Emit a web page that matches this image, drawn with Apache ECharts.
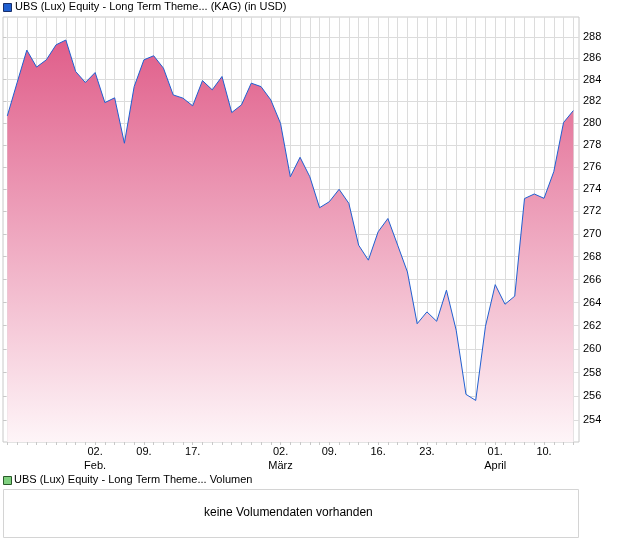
<!DOCTYPE html>
<html>
<head>
<meta charset="utf-8">
<script src="https://cdn.jsdelivr.net/npm/echarts@6/dist/echarts.min.js"></script>
<style>
html,body{margin:0;padding:0;background:#fff;}
#chart{width:620px;height:546px;}
</style>
</head>
<body>
<div id="chart"></div>
<script>
// ---- data ----
const dates = [
  '2026-01-20','2026-01-21','2026-01-22','2026-01-23','2026-01-26','2026-01-27','2026-01-28','2026-01-29','2026-01-30',
  '2026-02-02','2026-02-03','2026-02-04','2026-02-05','2026-02-06',
  '2026-02-09','2026-02-10','2026-02-11','2026-02-12','2026-02-13',
  '2026-02-17','2026-02-18','2026-02-19','2026-02-20',
  '2026-02-23','2026-02-24','2026-02-25','2026-02-26','2026-02-27',
  '2026-03-02','2026-03-03','2026-03-04','2026-03-05','2026-03-06',
  '2026-03-09','2026-03-10','2026-03-11','2026-03-12','2026-03-13',
  '2026-03-16','2026-03-17','2026-03-18','2026-03-19','2026-03-20',
  '2026-03-23','2026-03-24','2026-03-25','2026-03-26','2026-03-27',
  '2026-03-30','2026-03-31','2026-04-01','2026-04-02',
  '2026-04-07','2026-04-08','2026-04-09','2026-04-10',
  '2026-04-13','2026-04-14','2026-04-15'
];
const prices = [
  280.65, 283.71, 286.77, 285.18, 285.86, 287.27, 287.72, 284.77, 283.74,
  284.67, 281.88, 282.32, 278.15, 283.36,
  285.86, 286.24, 285.08, 282.59, 282.29,
  281.58, 283.92, 283.06, 284.30,
  280.96, 281.67, 283.68, 283.36, 282.13,
  279.96, 275.11, 276.87, 275.11, 272.33,
  272.87, 273.98, 272.72, 269.01, 267.69,
  270.19, 271.37, 269.01, 266.66, 262.17,
  263.19, 262.38, 265.07, 261.61, 256.17,
  255.66, 261.95, 265.55, 263.85,
  264.55, 273.15, 273.56, 273.17,
  275.57, 280.04, 281.14
];
const tickDates  = ['2026-02-02','2026-02-09','2026-02-17','2026-03-02','2026-03-09','2026-03-16','2026-03-23','2026-04-01','2026-04-10'];
const tickLabels = ['02.\nFeb.','09.','17.','02.\nMärz','09.','16.','23.','01.\nApril','10.'];
const yTicks = [254,256,258,260,262,264,266,268,270,272,274,276,278,280,282,284,286,288];
const yMin = 252.2, yMax = 289.9;
const titleText = 'UBS (Lux) Equity - Long Term Theme... (KAG) (in USD)';
const volTitle = 'UBS (Lux) Equity - Long Term Theme... Volumen';
const volEmpty = 'keine Volumendaten vorhanden';

// ---- chart ----
const chart = echarts.init(document.getElementById('chart'), null, {renderer:'canvas'});
const FONT = '"Liberation Sans", Arial, sans-serif';
const lnTicks = yTicks.map(v => Math.log(v));
const option = {
  animation: false,
  backgroundColor: '#ffffff',
  grid: [
    {left: 3, right: 41, top: 17, bottom: 104, show: true, borderColor: '#c8c8c8', borderWidth: 1, backgroundColor: 'transparent'},
    {left: 7.3, right: 46.7, top: 17, bottom: 104, show: false}
  ],
  xAxis: [
    {gridIndex: 0, type: 'value', min: 0, max: 1, show: false},
    {gridIndex: 1, type: 'category', data: dates, boundaryGap: false,
      axisLine: {show: false},
      axisTick: {show: true, interval: 0, length: 3, lineStyle: {color: '#c8c8c8'}},
      splitLine: {show: true, interval: 0, lineStyle: {color: '#dcdcdc', width: 1}},
      axisLabel: {
        show: true, margin: 3, color: '#000', fontFamily: FONT, fontSize: 11, lineHeight: 14,
        interval: (idx, val) => tickDates.indexOf(val) >= 0,
        formatter: (val) => { const k = tickDates.indexOf(val); return k >= 0 ? tickLabels[k] : ''; }
      }
    }
  ],
  yAxis: [
    {gridIndex: 0, type: 'value', position: 'right', min: Math.log(yMin), max: Math.log(yMax),
      axisLine: {show: false},
      axisTick: {show: true, length: 3, customValues: lnTicks, lineStyle: {color: '#c8c8c8'}},
      splitLine: {show: true, lineStyle: {color: '#dcdcdc', width: 1}},
      axisLabel: {show: true, margin: 4, customValues: lnTicks, color: '#000', fontFamily: FONT, fontSize: 11,
        formatter: (v) => String(Math.round(Math.exp(v)))}
    },
    {gridIndex: 1, type: 'value', min: Math.log(yMin), max: Math.log(yMax), show: false, splitLine: {show: false}}
  ],
  series: [{
    type: 'line', xAxisIndex: 1, yAxisIndex: 1,
    data: prices.map(v => Math.log(v)),
    symbol: 'none', smooth: false,
    lineStyle: {color: '#1f5fd0', width: 1},
    areaStyle: {
      origin: 'start', opacity: 1,
      color: new echarts.graphic.LinearGradient(0, 0, 0, 1, [
        {offset: 0, color: '#e05e8a'},
        {offset: 1, color: '#fef5f8'}
      ])
    }
  }],
  graphic: [
    {type: 'rect', left: 3, top: 3, shape: {width: 8, height: 8}, style: {fill: '#1f5fd0', stroke: '#1a2f6a', lineWidth: 1}},
    {type: 'text', left: 15, top: 1, style: {text: titleText, fontFamily: FONT, fontSize: 11, fill: '#000'}},
    {type: 'rect', left: 3, top: 476, shape: {width: 8, height: 8}, style: {fill: '#7fd07f', stroke: '#2a5a2a', lineWidth: 1}},
    {type: 'text', left: 14, top: 474, style: {text: volTitle, fontFamily: FONT, fontSize: 11, fill: '#000'}},
    {type: 'rect', left: 3, top: 489, shape: {width: 575, height: 48}, style: {fill: '#fff', stroke: '#d4d4d4', lineWidth: 1}},
    {type: 'text', left: 204, top: 507, style: {text: volEmpty, fontFamily: FONT, fontSize: 12, fill: '#000'}}
  ]
};
chart.setOption(option);
</script>
</body>
</html>
